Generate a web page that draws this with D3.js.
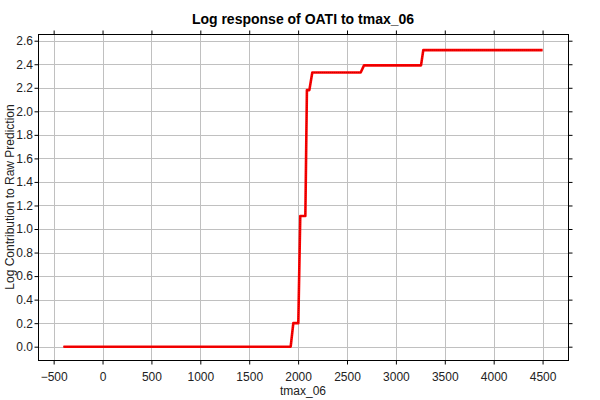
<!DOCTYPE html>
<html><head><meta charset="utf-8">
<script src="https://cdn.jsdelivr.net/npm/d3@7"></script>
<style>body{margin:0;background:#fff}svg{display:block}</style>
</head><body>
<script>
const title = "Log response of OATI to tmax_06";
const xLabel = "tmax_06";
const yLabel = "Log Contribution to Raw Prediction";
const xValues = [-400, 1924, 1951, 2002, 2022, 2074, 2090, 2115, 2145, 2640, 2674, 3257, 3280, 4500];
const yValues = [0, 0, 0.2, 0.2, 1.11, 1.11, 2.18, 2.18, 2.33, 2.33, 2.39, 2.39, 2.52, 2.52];
const xTicks = [-500, 0, 500, 1000, 1500, 2000, 2500, 3000, 3500, 4000, 4500];
const yTicks = [0, 0.2, 0.4, 0.6, 0.8, 1.0, 1.2, 1.4, 1.6, 1.8, 2.0, 2.2, 2.4, 2.6];

const W = 600, H = 400;
const m = {left: 38, right: 32, top: 34, bottom: 40};
const svg = d3.select("body").append("svg").attr("width", W).attr("height", H)
  .style("font-family", "Arial, 'Liberation Sans', sans-serif");
const x = d3.scaleLinear().domain([-660, 4760]).range([m.left, W - m.right]);
const y = d3.scaleLinear().domain([-0.113, 2.657]).range([H - m.bottom, m.top]);

const g = svg.append("g");
// grid
g.selectAll(".gx").data(xTicks).join("line")
  .attr("x1", d => Math.round(x(d)) + 0.5).attr("x2", d => Math.round(x(d)) + 0.5)
  .attr("y1", m.top).attr("y2", H - m.bottom).attr("stroke", "#c0c0c0");
g.selectAll(".gy").data(yTicks).join("line")
  .attr("y1", d => Math.round(y(d)) + 0.5).attr("y2", d => Math.round(y(d)) + 0.5)
  .attr("x1", m.left).attr("x2", W - m.right).attr("stroke", "#c0c0c0");

// axes
const fmt = d3.format(".1f");
const axB = svg.append("g").attr("transform", `translate(0,${H - m.bottom + 0.5})`)
  .call(d3.axisBottom(x).tickValues(xTicks).tickSize(4).tickPadding(8).tickFormat(d3.format("d")));
const axT = svg.append("g").attr("transform", `translate(0,${m.top + 0.5})`)
  .call(d3.axisTop(x).tickValues(xTicks).tickSize(4).tickFormat(""));
const axL = svg.append("g").attr("transform", `translate(${m.left + 0.5},0)`)
  .call(d3.axisLeft(y).tickValues(yTicks).tickSize(4).tickPadding(1.5).tickFormat(fmt));
const axR = svg.append("g").attr("transform", `translate(${W - m.right + 0.5},0)`)
  .call(d3.axisRight(y).tickValues(yTicks).tickSize(4).tickFormat(""));
[axB, axT, axL, axR].forEach(a => {
  a.select(".domain").remove();
  a.selectAll("line").attr("stroke", "#000");
  a.selectAll("text").attr("fill", "#222").style("font-size", "12px")
    .style("font-family", "Arial, 'Liberation Sans', sans-serif");
});
svg.append("rect").attr("x", m.left + 0.5).attr("y", m.top + 0.5)
  .attr("width", W - m.left - m.right).attr("height", H - m.top - m.bottom)
  .attr("fill", "none").attr("stroke", "#000");

// line
const pts = xValues.map((v, i) => [v, yValues[i]]);
const line = d3.line().x(d => x(d[0])).y(d => y(d[1]));
svg.append("path").datum(pts).attr("d", line).attr("fill", "none")
  .attr("stroke", "#ff0000").attr("stroke-width", 2.6).attr("stroke-linejoin", "round");
svg.append("path").datum(pts).attr("d", line).attr("fill", "none")
  .attr("stroke", "#c00000").attr("stroke-width", 1).attr("stroke-dasharray", "1,1");

// labels
svg.append("text").attr("x", (m.left + W - m.right) / 2).attr("y", 24)
  .attr("text-anchor", "middle").style("font-size", "14px").style("font-weight", "bold")
  .text(title);
svg.append("text").attr("x", (m.left + W - m.right) / 2).attr("y", 395)
  .attr("text-anchor", "middle").style("font-size", "12px").attr("fill", "#222").text(xLabel);
svg.append("text").attr("transform", `translate(14,${(m.top + H - m.bottom) / 2}) rotate(-90)`)
  .attr("text-anchor", "middle").style("font-size", "12px").attr("fill", "#222").text(yLabel);
</script>
</body></html>
